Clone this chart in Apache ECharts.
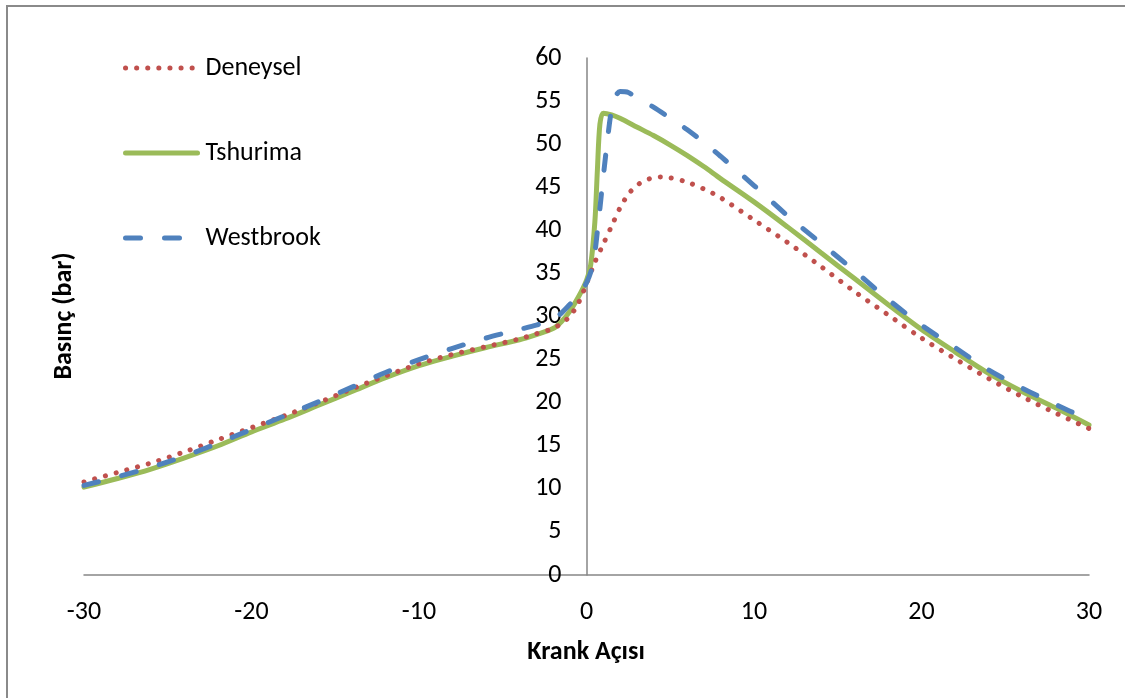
<!DOCTYPE html>
<html>
<head>
<meta charset="utf-8">
<script src="https://cdn.jsdelivr.net/npm/echarts@6/dist/echarts.min.js"></script>
<style>
html,body{margin:0;padding:0;background:#fff;}
#chart{width:1125px;height:698px;}
</style>
</head>
<body>
<div id="chart"></div>
<script>
var seriesNames = ['Deneysel', 'Tshurima', 'Westbrook'];
var xTitle = 'Krank Açısı';
var yTitle = 'Basınç (bar)';

var deneyselX = [-30,-28,-26,-24,-22,-20,-18,-16,-14,-12,-10,-8,-6,-4,-3,-2,-1.5,-1,-0.5,0,0.5,1,1.5,2,2.5,3,3.5,4,4.5,5,6,7,8,10,12,14,16,18,20,22,24,26,28,30];
var deneyselY = [10.8,11.9,13.0,14.3,15.7,17.1,18.5,20.0,21.6,23.1,24.5,25.6,26.5,27.4,28.0,28.6,29.2,30.0,31.5,33.8,36.3,38.4,40.5,42.6,44.2,45.2,45.8,46.1,46.2,46.1,45.6,44.8,43.8,41.2,38.6,35.8,32.9,30.2,27.5,25.1,22.8,20.7,18.8,17.0];

var tshurimaX = [-30,-28,-26,-24,-22,-20,-18,-16,-14,-12,-10,-8,-6,-4,-3,-2,-1.5,-1,-0.5,0,0.25,0.5,0.65,0.8,1,1.5,2,3,4,5,6,7,8,10,12,14,16,18,20,22,24,26,28,30];
var tshurimaY = [10.2,11.2,12.3,13.6,15.0,16.6,18.1,19.7,21.3,22.9,24.3,25.4,26.4,27.3,27.9,28.6,29.4,30.6,32.2,34.2,36.0,41.0,47.0,52.3,53.6,53.4,53.0,52.0,51.0,49.9,48.7,47.4,46.0,43.3,40.4,37.4,34.4,31.4,28.5,25.9,23.4,21.3,19.4,17.4];

var westbrookX = [-30,-28,-26,-24,-22,-20,-18,-16,-14,-12,-10,-8,-6,-4,-3,-2,-1.5,-1,-0.5,0,0.4,0.7,1.0,1.3,1.5,1.75,2,2.5,3,4,5,6,7,8,10,12,14,16,18,20,22,24,26,28,30];
var westbrookY = [10.4,11.4,12.5,13.8,15.3,16.9,18.5,20.1,21.8,23.5,25.0,26.3,27.5,28.5,29.0,29.6,30.4,31.4,32.6,33.9,36.2,40.8,46.2,51.3,54.0,55.6,56.1,56.0,55.3,54.3,53.0,51.7,50.2,48.6,45.2,41.7,38.5,35.3,32.0,29.0,26.4,23.8,21.7,19.8,18.0];

var xTicks = [-30,-20,-10,0,10,20,30];
var yMin = 0, yMax = 60, yStep = 5;

function pairs(xs, ys){ return xs.map(function(x,i){ return [x, ys[i]]; }); }

var FONT = 'Carlito, "Liberation Sans", sans-serif';
var chart = echarts.init(document.getElementById('chart'), null, {renderer:'canvas'});
chart.setOption({
  backgroundColor: '#ffffff',
  animation: false,
  grid: {left: 84, right: 36, top: 58, bottom: 123, containLabel: false},
  legend: {
    orient: 'vertical', left: 118, top: 48, itemWidth: 72, itemHeight: 30, itemGap: 55,
    itemStyle: {opacity: 0},
    lineStyle: {width: 5, cap: 'round'},
    textStyle: {fontFamily: FONT, fontSize: 26, lineHeight: 30, color: '#000', padding: [0,0,0,3]},
    data: seriesNames
  },
  xAxis: {
    type: 'value', min: xTicks[0], max: xTicks[xTicks.length-1], interval: 10,
    axisLine: {onZero: true, lineStyle: {color: '#868686', width: 1.5}},
    axisTick: {show: false}, splitLine: {show: false},
    axisLabel: {fontFamily: FONT, fontSize: 26, color: '#000', margin: 24}
  },
  yAxis: {
    type: 'value', min: yMin, max: yMax, interval: yStep, position: 'left', offset: -502.5,
    axisLine: {show: true, onZero: false, lineStyle: {color: '#868686', width: 1.5}},
    axisTick: {show: false}, splitLine: {show: false},
    axisLabel: {fontFamily: FONT, fontSize: 26, color: '#000', margin: 25}
  },
  graphic: [
    {type: 'rect', shape: {x: 7, y: 6, width: 1200, height: 800}, style: {fill: 'none', stroke: '#8a8a8a', lineWidth: 2}, silent: true},
    {type: 'text', position: [586, 652], style: {text: xTitle, font: 'bold 26px ' + FONT, fill: '#000', textAlign: 'center', textVerticalAlign: 'middle'}},
    {type: 'text', rotation: Math.PI/2, position: [64, 316], style: {text: yTitle, font: 'bold 26px ' + FONT, fill: '#000', textAlign: 'center', textVerticalAlign: 'middle'}}
  ],
  series: [
    {name: seriesNames[0], type: 'line', data: pairs(deneyselX, deneyselY), smooth: 0.3, symbol: 'none',
     lineStyle: {color: '#C0504D', width: 5, type: [0.1, 11], cap: 'round'}, itemStyle: {color: '#C0504D'}, z: 3},
    {name: seriesNames[1], type: 'line', data: pairs(tshurimaX, tshurimaY), smooth: 0.3, symbol: 'none',
     lineStyle: {color: '#9BBB59', width: 5, type: 'solid', cap: 'round'}, itemStyle: {color: '#9BBB59'}, z: 2},
    {name: seriesNames[2], type: 'line', data: pairs(westbrookX, westbrookY), smooth: 0.3, symbol: 'none',
     lineStyle: {color: '#4F81BD', width: 5, type: [15, 24], cap: 'round'}, itemStyle: {color: '#4F81BD'}, z: 4}
  ]
});
</script>
</body>
</html>
